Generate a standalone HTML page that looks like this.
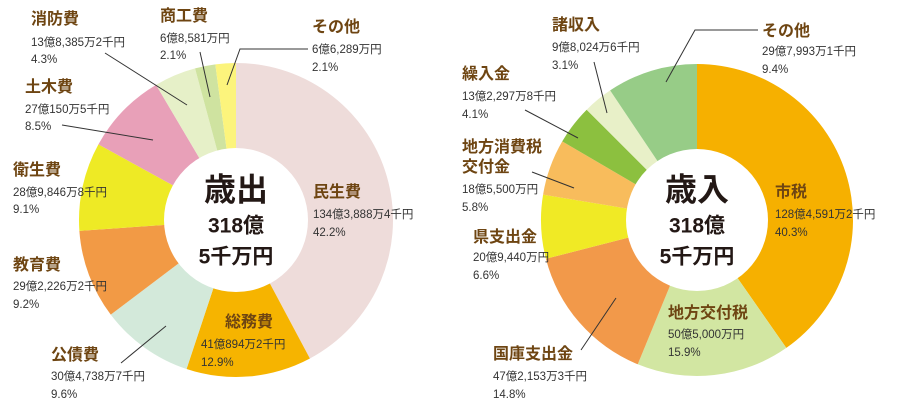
<!DOCTYPE html>
<html><head><meta charset="utf-8"><style>
html,body{margin:0;padding:0;background:#fff;}
svg{display:block;font-family:"Liberation Sans","Noto Sans CJK JP",sans-serif;}
.h{font-weight:bold;font-size:16px;fill:#6e4512;}
.v{font-size:11.5px;fill:#333;}
.c{fill:#231815;text-anchor:middle;}
line,polyline{stroke:#333;stroke-width:1;fill:none;}
</style></head><body>
<svg id="s" width="900" height="408" viewBox="0 0 900 408">
<g id="pies"></g>
<circle cx="236" cy="220" r="72" fill="#fff"/>
<circle cx="697" cy="220" r="71" fill="#fff"/>
<g class="c">
<text x="236" y="192" dominant-baseline="middle" font-size="32" font-weight="bold">歳出</text>
<text x="236" y="227" dominant-baseline="middle" font-size="21" font-weight="bold">318億</text>
<text x="236" y="258" dominant-baseline="middle" font-size="21" font-weight="bold">5千万円</text>
<text x="697" y="192" dominant-baseline="middle" font-size="32" font-weight="bold">歳入</text>
<text x="697" y="227" dominant-baseline="middle" font-size="21" font-weight="bold">318億</text>
<text x="697" y="258" dominant-baseline="middle" font-size="21" font-weight="bold">5千万円</text>
</g>
<line x1="105" y1="53" x2="187" y2="105"/>
<line x1="200" y1="52" x2="210" y2="97"/>
<polyline points="308,49 240,49 227,85"/>
<line x1="62" y1="125" x2="153" y2="140"/>
<line x1="121" y1="363" x2="166" y2="326"/>
<polyline points="758,30 695,30 666,82"/>
<line x1="594" y1="62" x2="607" y2="113"/>
<line x1="525" y1="110" x2="578" y2="138"/>
<line x1="532" y1="172" x2="574" y2="188"/>
<line x1="581" y1="350" x2="616" y2="298"/>
<g dominant-baseline="middle">
<text class="h" x="31" y="20">消防費</text><text class="v" x="31" y="43">13億8,385万2千円</text><text class="v" x="31" y="60">4.3%</text>
<text class="h" x="160" y="17">商工費</text><text class="v" x="160" y="39">6億8,581万円</text><text class="v" x="160" y="56">2.1%</text>
<text class="h" x="312" y="28">その他</text><text class="v" x="312" y="50">6億6,289万円</text><text class="v" x="312" y="68">2.1%</text>
<text class="h" x="25" y="88">土木費</text><text class="v" x="25" y="110">27億150万5千円</text><text class="v" x="25" y="127">8.5%</text>
<text class="h" x="13" y="171">衛生費</text><text class="v" x="13" y="193">28億9,846万8千円</text><text class="v" x="13" y="210">9.1%</text>
<text class="h" x="13" y="266">教育費</text><text class="v" x="13" y="287">29億2,226万2千円</text><text class="v" x="13" y="305">9.2%</text>
<text class="h" x="51" y="356">公債費</text><text class="v" x="51" y="377">30億4,738万7千円</text><text class="v" x="51" y="395">9.6%</text>
<text class="h" x="313" y="193">民生費</text><text class="v" x="313" y="215">134億3,888万4千円</text><text class="v" x="313" y="233">42.2%</text>
<text class="h" x="225" y="323">総務費</text><text class="v" x="201" y="345">41億894万2千円</text><text class="v" x="201" y="363">12.9%</text>

<text class="h" x="552" y="26">諸収入</text><text class="v" x="552" y="48">9億8,024万6千円</text><text class="v" x="552" y="66">3.1%</text>
<text class="h" x="762" y="32">その他</text><text class="v" x="762" y="52">29億7,993万1千円</text><text class="v" x="762" y="70">9.4%</text>
<text class="h" x="462" y="75">繰入金</text><text class="v" x="462" y="97">13億2,297万8千円</text><text class="v" x="462" y="115">4.1%</text>
<text class="h" x="462" y="148">地方消費税</text><text class="h" x="462" y="168">交付金</text><text class="v" x="462" y="190">18億5,500万円</text><text class="v" x="462" y="208">5.8%</text>
<text class="h" x="473" y="238">県支出金</text><text class="v" x="473" y="258">20億9,440万円</text><text class="v" x="473" y="276">6.6%</text>
<text class="h" x="493" y="355">国庫支出金</text><text class="v" x="493" y="377">47億2,153万3千円</text><text class="v" x="493" y="395">14.8%</text>
<text class="h" x="775" y="193">市税</text><text class="v" x="775" y="215">128億4,591万2千円</text><text class="v" x="775" y="233">40.3%</text>
<text class="h" x="668" y="314">地方交付税</text><text class="v" x="668" y="335">50億5,000万円</text><text class="v" x="668" y="353">15.9%</text>
</g>
</svg>
<script>
function pie(cx,cy,r,data){
  var g=document.getElementById('pies'),a=0,ns='http://www.w3.org/2000/svg';
  data.forEach(function(d){
    var a0=a,a1=a+d[0]/100*2*Math.PI;a=a1;
    var x0=cx+r*Math.sin(a0),y0=cy-r*Math.cos(a0),x1=cx+r*Math.sin(a1),y1=cy-r*Math.cos(a1);
    var p=document.createElementNS(ns,'path');
    p.setAttribute('d','M'+cx+','+cy+'L'+x0+','+y0+'A'+r+','+r+' 0 '+((a1-a0)>Math.PI?1:0)+' 1 '+x1+','+y1+'Z');
    p.setAttribute('fill',d[1]);
    g.appendChild(p);
  });
}
pie(236,220,157,[[42.2,'#eedcda'],[12.9,'#f6b400'],[9.6,'#d3e9da'],[9.2,'#f29a45'],[9.1,'#eeea25'],[8.5,'#e8a0b8'],[4.3,'#e6f0c8'],[2.1,'#cfe3a0'],[2.1,'#fcf47c']]);
pie(697,220,156,[[40.3,'#f6b000'],[15.9,'#d2e6a2'],[14.8,'#f2994a'],[6.6,'#f0ea25'],[5.8,'#f8bc5c'],[4.1,'#8cc03f'],[3.1,'#e8f0c8'],[9.4,'#97cc87']]);
</script>
</body></html>
